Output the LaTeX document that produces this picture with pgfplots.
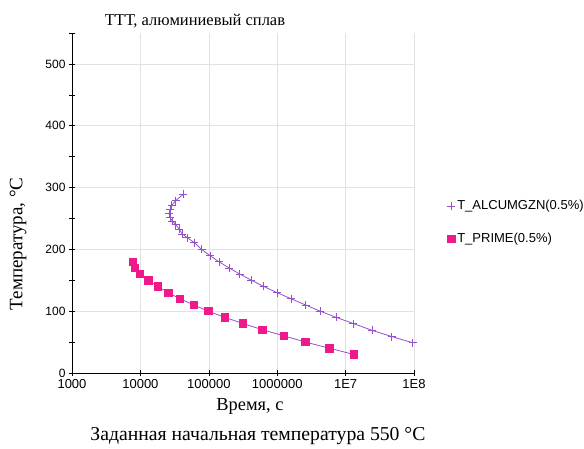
\documentclass[border=0pt]{standalone}
\usepackage{fontspec}
\setmainfont{Liberation Serif}
\setsansfont{Liberation Sans}
\usepackage{pgfplots}
\pgfplotsset{compat=1.18}
\definecolor{lilac}{RGB}{150,80,205}
\definecolor{hotpink}{RGB}{240,25,140}
\definecolor{gridgray}{RGB}{226,226,226}

% T_ALCUMGZN(0.5%): time (s), temperature (C)
\pgfplotstableread{
t T
42400 289
32800 279
28700 271
27100 264
26200 258
27100 251
29300 246
32800 240
36700 233
41000 225
48400 219
61300 211
78500 200
103800 190
140300 180
198300 170
284000 160
420700 150
635600 140
993000 130
1610000 120
2600000 110
4260000 100
7290000 90
13000000 80
24400000 69
47100000 59
95500000 49
}\alcumgzn

% T_PRIME(0.5%)
\pgfplotstableread{
t T
7750 180
8370 170
9900 160
13080 150
17930 140
25600 130
37900 120
60600 110
98000 100
171700 90
317000 80
608000 70
1256000 60
2600000 50
5820000 40
13180000 30
}\tprime

\begin{document}
\begin{tikzpicture}[x=1pt,y=1pt]
\path[use as bounding box] (0,0) rectangle (584,448);
\begin{axis}[
  at={(72pt,75pt)}, anchor=south west,
  scale only axis, width=342pt, height=340pt,
  xmode=log, log basis x=10,
  xmin=1000, xmax=1e8, ymin=0, ymax=550,
  xtick={1000,10000,100000,1000000,10000000,100000000},
  xticklabels={1000,10000,100000,1000000,1E7,1E8},
  ytick={0,100,200,300,400,500},
  minor y tick num=1,
  extra y ticks={550}, extra y tick labels={},
  extra y tick style={grid=none},
  axis lines=left,
  axis line style={-, black, line width=0.8pt},
  tick align=center,
  major tick length=6pt, minor tick length=6pt,
  every tick/.style={black, line width=0.6pt},
  grid=major,
  grid style={gridgray, line width=0.6pt},
  /pgf/number format/assume math mode=true,
  xticklabel style={font=\sffamily\fontsize{13}{15}\selectfont},
  yticklabel style={font=\sffamily\fontsize{12}{14}\selectfont},
  legend style={draw=none, fill=none, at={(1.088,0.443)}, anchor=west,
    font=\sffamily\fontsize{13}{15}\selectfont, row sep=18pt},
  legend cell align=left,
  legend image code/.code={\draw[#1] plot[only marks] coordinates {(0.12cm,0cm)};},
  clip=false,
]
\addplot[lilac, line width=0.8pt, mark=+, mark size=4pt,
  mark options={lilac, line width=0.7pt}]
  table[x=t, y=T] {\alcumgzn};
\addlegendentry{T\_ALCUMGZN(0.5\%)}
\addplot[lilac, line width=0.8pt, mark=square*, mark size=3.7pt,
  mark options={draw=hotpink, fill=hotpink}]
  table[x=t, y=T] {\tprime};
\addlegendentry{T\_PRIME(0.5\%)}
\end{axis}
\node[font=\fontsize{16.5}{18}\selectfont] at (195,427) {ТТТ, алюминиевый сплав};
\node[font=\fontsize{18.4}{20}\selectfont] at (250,42) {Время, с};
\node[font=\fontsize{19.7}{21}\selectfont] at (258,12) {Заданная начальная температура 550 °C};
\node[font=\fontsize{19}{21}\selectfont, rotate=90] at (18,204) {Температура, °C};
\end{tikzpicture}
\end{document}
